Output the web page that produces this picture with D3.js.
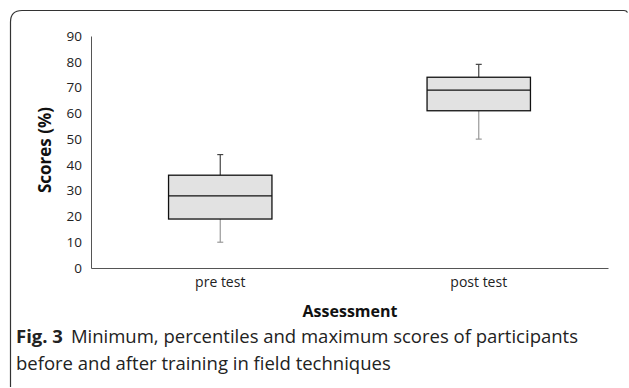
<!DOCTYPE html>
<html><head><meta charset="utf-8">
<script src="https://cdn.jsdelivr.net/npm/d3@7"></script>
<style>body{margin:0;background:#fff}svg{display:block}</style>
</head><body>
<script>
const categories = ["pre test", "post test"];
const minVals = [10, 50];
const q1Vals = [19, 61];
const medianVals = [28, 69];
const q3Vals = [36, 74];
const maxVals = [44, 79];
const yTicks = [0,10,20,30,40,50,60,70,80,90];

const W = 629, H = 388;
const FONT = "'Open Sans', sans-serif";
const svg = d3.select("body").append("svg").attr("width", W).attr("height", H);

// frame
svg.append("path")
  .attr("d", "M10.5,387 L10.5,22 Q10.5,10.5 22,10.5 L624,10.5 Q626.5,10.5 627.5,12.5")
  .attr("fill", "none").attr("stroke", "#333").attr("stroke-width", 1.2);

const x = d3.scaleBand().domain(categories).range([91, 608]);
const y = d3.scaleLinear().domain([0, 90]).range([268, 36]);

const data = categories.map((c, i) => ({c, min: minVals[i], q1: q1Vals[i], med: medianVals[i], q3: q3Vals[i], max: maxVals[i]}));

// axes
const yAxis = svg.append("g").attr("transform", "translate(91,0)")
  .call(d3.axisLeft(y).tickValues(yTicks).tickSize(0).tickPadding(9));
yAxis.select(".domain").attr("stroke", "#555").attr("stroke-width", 1);
yAxis.selectAll("text").attr("font-family", FONT).attr("font-size", 13.5).attr("fill", "#222");

const xAxis = svg.append("g").attr("transform", "translate(0,268)")
  .call(d3.axisBottom(x).tickSize(0).tickPadding(8));
xAxis.select(".domain").attr("stroke", "#555").attr("stroke-width", 1);
xAxis.selectAll("text").attr("font-family", FONT).attr("font-size", 14).attr("fill", "#222")
  .attr("y", 19).attr("dy", 0);

const bw = x.bandwidth() * 0.4;
const g = svg.append("g");
data.forEach(d => {
  const cx = x(d.c) + x.bandwidth() / 2;
  g.append("line").attr("x1", cx).attr("x2", cx).attr("y1", y(d.q3)).attr("y2", y(d.max)).attr("stroke", "#444").attr("stroke-width", 1.2);
  g.append("line").attr("x1", cx - 3).attr("x2", cx + 3).attr("y1", y(d.max)).attr("y2", y(d.max)).attr("stroke", "#444").attr("stroke-width", 1.2);
  g.append("line").attr("x1", cx).attr("x2", cx).attr("y1", y(d.q1)).attr("y2", y(d.min)).attr("stroke", "#999").attr("stroke-width", 1.2);
  g.append("line").attr("x1", cx - 3).attr("x2", cx + 3).attr("y1", y(d.min)).attr("y2", y(d.min)).attr("stroke", "#999").attr("stroke-width", 1.2);
  g.append("rect").attr("x", cx - bw / 2).attr("width", bw).attr("y", y(d.q3)).attr("height", y(d.q1) - y(d.q3))
    .attr("fill", "#e2e2e2").attr("stroke", "#111").attr("stroke-width", 1.3);
  g.append("line").attr("x1", cx - bw / 2).attr("x2", cx + bw / 2).attr("y1", y(d.med)).attr("y2", y(d.med)).attr("stroke", "#111").attr("stroke-width", 1.3);
});

// axis titles
svg.append("text").attr("transform", "translate(51,150) rotate(-90)").attr("text-anchor", "middle")
  .attr("font-family", FONT).attr("font-weight", "bold").attr("font-size", 17).attr("fill", "#111").text("Scores (%)");
svg.append("text").attr("x", 350).attr("y", 317).attr("text-anchor", "middle")
  .attr("font-family", FONT).attr("font-weight", "bold").attr("font-size", 16).attr("fill", "#111").text("Assessment");

// caption
const cap = svg.append("text").attr("x", 16).attr("y", 343).attr("font-family", FONT).attr("font-size", 18.5).attr("fill", "#222");
cap.append("tspan").attr("font-weight", "bold").text("Fig. 3");
cap.append("tspan").attr("dx", 8).text("Minimum, percentiles and maximum scores of participants");
svg.append("text").attr("x", 16).attr("y", 370).attr("font-family", FONT).attr("font-size", 18.5).attr("fill", "#222")
  .text("before and after training in field techniques");
</script>
</body></html>
